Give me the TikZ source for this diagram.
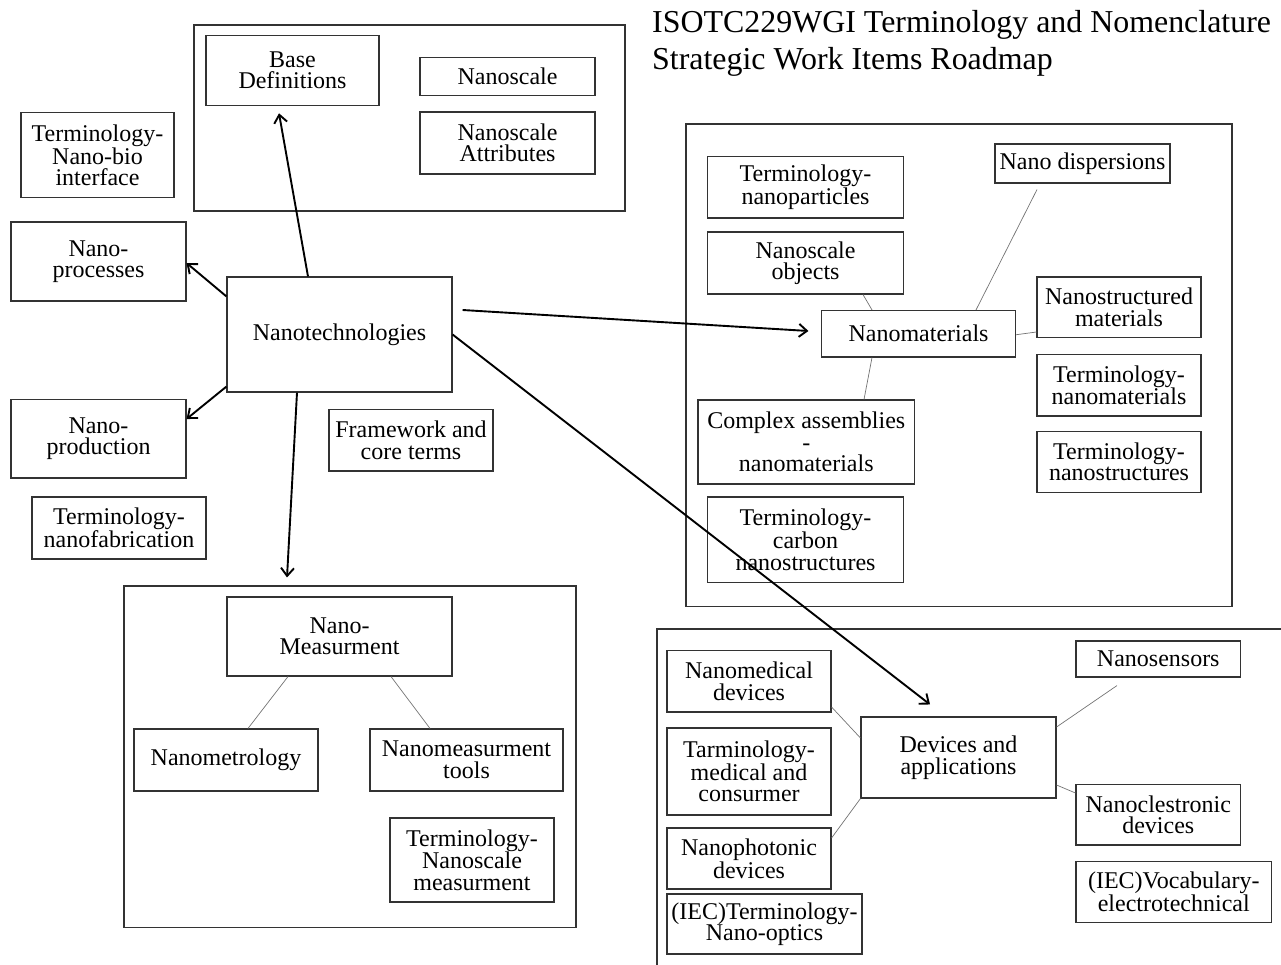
\documentclass[tikz,border=0pt]{standalone}
\usepackage{fontspec}
\setmainfont{Liberation Serif}
\usetikzlibrary{arrows.meta}

\tikzset{
  boite/.style={draw=black!80, line width=1.1pt, inner sep=2pt, align=center,
    font=\fontsize{24}{21.5}\selectfont},
  groupe/.style={draw=black!80, line width=1.1pt, inner sep=0pt},
  fleche/.style={line width=1.9pt, -{Straight Barb[length=8pt,width=13pt]}},
  lien/.style={draw=black!55, line width=0.7pt},
  titre/.style={anchor=base west, inner sep=0pt, font=\fontsize{31.9}{38}\selectfont}
}

\begin{document}
\begin{tikzpicture}[x=1pt, y=-1pt]
    \useasboundingbox (0,0) rectangle (1281,965);

    % titre
    \node[titre] (titre1) at (652,33) {ISOTC229WGI Terminology and Nomenclature};
    \node[titre] (titre2) at (652,70) {Strategic Work Items Roadmap};

    % groupes
    \node[groupe, minimum width=431pt, minimum height=186pt] (gdef) at (409.5,118) {};
    \node[groupe, minimum width=452pt, minimum height=341.5pt] (gmes) at (350,756.75) {};
    \node[groupe, minimum width=546pt, minimum height=482.5pt] (gmat) at (959,365.25) {};
    \draw[groupe] (1281,629) -- (657,629) -- (657,965);

    % definitions
    \node[boite, minimum width=173pt, minimum height=70pt] (base) at (292.5,70.25) {Base\\Definitions};
    \node[boite, minimum width=175pt, minimum height=38pt] (echelle) at (507.5,76.75) {Nanoscale};
    \node[boite, minimum width=175pt, minimum height=62pt] (attrib) at (507.5,143) {Nanoscale\\Attributes};

    % colonne de gauche
    \node[boite, minimum width=153pt, minimum height=85pt] (bio) at (97.5,155.25) {Terminology-\\Nano-bio\\interface};
    \node[boite, minimum width=175pt, minimum height=79pt] (proc) at (98.5,261.5) {Nano-\\processes};
    \node[boite, minimum width=225pt, minimum height=115pt] (tech) at (339.5,334.5) {Nanotechnologies};
    \node[boite, minimum width=175pt, minimum height=78.5pt] (prod) at (98.5,438.75) {Nano-\\production};
    \node[boite, minimum width=174pt, minimum height=62pt] (fab) at (119,528) {Terminology-\\nanofabrication};
    \node[boite, minimum width=164pt, minimum height=61.5pt] (cadre) at (411,440.25) {Framework and\\core terms};

    % mesure
    \node[boite, minimum width=225pt, minimum height=79pt] (mes) at (339.5,636.5) {Nano-\\Measurment};
    \node[boite, minimum width=184pt, minimum height=62pt] (metro) at (226,760) {Nanometrology};
    \node[boite, minimum width=193pt, minimum height=62pt] (outils) at (466.5,760) {Nanomeasurment\\tools};
    \node[boite, minimum width=164pt, minimum height=84pt] (tmes) at (472,860) {Terminology-\\Nanoscale\\measurment};

    % materiaux
    \node[boite, minimum width=196pt, minimum height=61.5pt] (part) at (805.5,187.25) {Terminology-\\nanoparticles};
    \node[boite, minimum width=196pt, minimum height=62pt] (obj) at (805.5,263) {Nanoscale\\objects};
    \node[boite, minimum width=175pt, minimum height=39pt] (disp) at (1082.5,163.5) {Nano dispersions};
    \node[boite, minimum width=194pt, minimum height=46.5pt] (mat) at (918.5,333.75) {Nanomaterials};
    \node[boite, minimum width=164pt, minimum height=60.5pt] (struct) at (1119,307.25) {Nanostructured\\materials};
    \node[boite, minimum width=164pt, minimum height=61.5pt] (tmat) at (1119,385.25) {Terminology-\\nanomaterials};
    \node[boite, minimum width=216.5pt, minimum height=84pt] (compl) at (806.25,442) {Complex assemblies\\-\\nanomaterials};
    \node[boite, minimum width=164pt, minimum height=61pt] (tstr) at (1119,462) {Terminology-\\nanostructures};
    \node[boite, minimum width=196pt, minimum height=85.5pt] (carb) at (805.5,539.75) {Terminology-\\carbon\\nanostructures};

    % dispositifs
    \node[boite, minimum width=164pt, minimum height=61.5pt] (med) at (749,681.25) {Nanomedical\\devices};
    \node[boite, minimum width=164pt, minimum height=87pt] (tmed) at (749,771.5) {Tarminology-\\medical and\\consurmer};
    \node[boite, minimum width=164pt, minimum height=61pt] (phot) at (749,858.5) {Nanophotonic\\devices};
    \node[boite, minimum width=195pt, minimum height=60pt] (optiq) at (764.5,924) {(IEC)Terminology-\\Nano-optics};
    \node[boite, minimum width=195pt, minimum height=81pt] (disps) at (958.5,757.5) {Devices and\\applications};
    \node[boite, minimum width=164.5pt, minimum height=36pt] (capt) at (1158.25,659) {Nanosensors};
    \node[boite, minimum width=164.5pt, minimum height=60.5pt] (elec) at (1158.25,814.75) {Nanoclestronic\\devices};
    \node[boite, minimum width=195.5pt, minimum height=61pt] (vocab) at (1173.75,892) {(IEC)Vocabulary-\\electrotechnical};

    % liens fins
    \draw[lien] ([xshift=57.5pt]obj.south) -- ([xshift=-46.5pt]mat.north);
    \draw[lien] ([xshift=-45.5pt,yshift=-6pt]disp.south) -- ([xshift=57.5pt]mat.north);
    \draw[lien] ([yshift=-1pt]mat.east) -- ([yshift=-24.75pt]struct.west);
    \draw[lien] ([xshift=-46.5pt]mat.south) -- ([xshift=57.75pt]compl.north);
    \draw[lien] ([yshift=-25.75pt]med.east) -- ([yshift=19.5pt]disps.west);
    \draw[lien] ([yshift=20.5pt]phot.east) -- (disps.south west);
    \draw[lien] ([yshift=30.5pt]disps.east) -- ([xshift=-41.25pt,yshift=-8pt]capt.south);
    \draw[lien] ([yshift=-27.5pt]disps.east) -- ([yshift=21.75pt]elec.west);
    \draw[lien] ([xshift=-51.5pt]mes.south) -- ([xshift=22pt]metro.north);
    \draw[lien] ([xshift=51.5pt]mes.south) -- ([xshift=-36.5pt]outils.north);

    % fleches
    \draw[fleche] ([xshift=-31.5pt]tech.north) -- ([xshift=-13.5pt,yshift=-7.5pt]base.south);
    \draw[fleche] ([yshift=-20pt]tech.north west) -- ([yshift=-1.5pt]proc.east);
    \draw[fleche] ([yshift=6pt]tech.south west) -- ([yshift=19.75pt]prod.east);
    \draw[fleche] ([xshift=-42.5pt]tech.south) -- ([xshift=-63pt,yshift=8pt]gmes.north);
    \draw[fleche] ([xshift=10pt,yshift=24.5pt]tech.east) -- ([xshift=-12.5pt,yshift=2.75pt]mat.west);
    \draw[fleche] (tech.east) -- ([xshift=-28.5pt,yshift=12pt]disps.north);

\end{tikzpicture}
\end{document}
